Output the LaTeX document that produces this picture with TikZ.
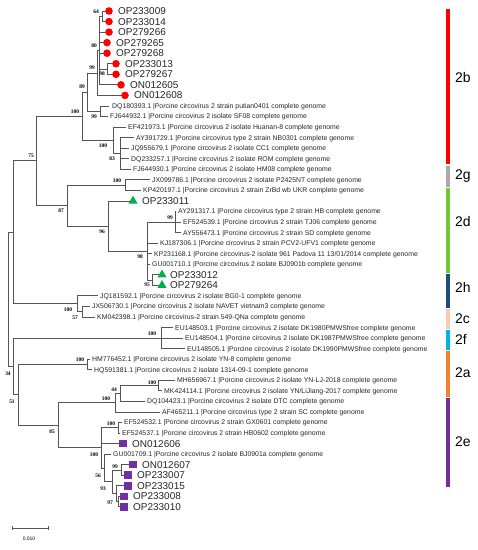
\documentclass[tikz,border=0pt]{standalone}
\usepackage{fontspec}
\setmainfont{Liberation Sans}
\newfontfamily\bsfont{Liberation Serif}
\usetikzlibrary{shapes.geometric}
\definecolor{treeline}{RGB}{85,85,85}
\definecolor{cred}{RGB}{255,0,0}
\definecolor{cgreen}{RGB}{0,176,80}
\definecolor{cpurple}{RGB}{112,48,160}
\definecolor{bgray}{RGB}{170,170,170}
\definecolor{bgreen}{RGB}{112,200,60}
\definecolor{bdblue}{RGB}{31,78,121}
\definecolor{bpeach}{RGB}{248,203,173}
\definecolor{blblue}{RGB}{0,176,240}
\definecolor{borange}{RGB}{244,128,48}
\begin{document}
\begin{tikzpicture}[x=1bp,y=-1bp,
  br/.style={draw=treeline,line width=0.75bp},
  lab/.style={anchor=base west,inner sep=0,font=\fontsize{6.9}{7}\selectfont,text=black!85,yshift=-2.5bp},
  oplab/.style={anchor=base west,inner sep=0,font=\fontsize{10}{11}\selectfont,text=black!85,yshift=-3.6bp},
  bs/.style={anchor=center,inner sep=0,font=\bsfont\bfseries\fontsize{5.5}{6}\selectfont},
  redc/.style={circle,fill=cred,inner sep=0,minimum size=7.6bp},
  grtri/.style={regular polygon,regular polygon sides=3,fill=cgreen,inner sep=0,minimum size=10.5bp},
  pusq/.style={rectangle,fill=cpurple,inner sep=0,minimum size=7.6bp},
  bar/.style={line width=3.3bp},
  clade/.style={anchor=west,inner sep=0,font=\fontsize{14}{15}\selectfont}]
\useasboundingbox (0,0) rectangle (478,550);
% internal nodes
\coordinate (root) at (8,299.4);
\coordinate (nA) at (13,232.3);
\coordinate (n34) at (13,366.45);
\coordinate (n75) at (36,160.85);
\coordinate (n100a) at (82,116.17);
\coordinate (n89) at (87,92.1);
\coordinate (n99a) at (97,72.98);
\coordinate (n80) at (99,50.56);
\coordinate (n64) at (102,16.28);
\coordinate (n98a) at (107,69.03);
\coordinate (nDQ) at (100,111.23);
\coordinate (nEF) at (113,140.24);
\coordinate (n83) at (120,153.43);
\coordinate (n87) at (67,205.52);
\coordinate (nJX) at (125,185.08);
\coordinate (n96) at (108,225.96);
\coordinate (n98b) at (147,251.01);
\coordinate (n99b) at (175,222);
\coordinate (n95) at (152,280.03);
\coordinate (nJQ) at (77,303.76);
\coordinate (n57) at (82,311.68);
\coordinate (nEU) at (161,338.05);
\coordinate (n51) at (18,394.84);
\coordinate (nHM) at (87,364.43);
\coordinate (n85) at (58,425.26);
\coordinate (n100b) at (115,402.67);
\coordinate (n44) at (120,393.44);
\coordinate (nMH) at (158,385.53);
\coordinate (n2e) at (101,447.84);
\coordinate (nEFe) at (118,427.73);
\coordinate (n56) at (104,467.95);
\coordinate (n93) at (112,481.79);
\coordinate (n99e) at (121,469.93);
\coordinate (nX) at (116,493.66);
\coordinate (n97) at (118,501.58);
% tips
\coordinate (t1) at (109,11);
\coordinate (t2) at (109,21.55);
\coordinate (t3) at (109,32.1);
\coordinate (t4) at (107,42.65);
\coordinate (t5) at (107,53.2);
\coordinate (t6) at (116,63.75);
\coordinate (t7) at (116,74.3);
\coordinate (t8) at (121,84.85);
\coordinate (t9) at (125,95.4);
\coordinate (t10) at (109,105.95);
\coordinate (t11) at (108,116.5);
\coordinate (t12) at (126,127.05);
\coordinate (t13) at (134,137.6);
\coordinate (t14) at (129,148.15);
\coordinate (t15) at (129,158.7);
\coordinate (t16) at (131,169.25);
\coordinate (t17) at (150,179.8);
\coordinate (t18) at (141,190.35);
\coordinate (t19) at (133,200.9);
\coordinate (t20) at (176,211.45);
\coordinate (t21) at (181,222);
\coordinate (t22) at (181,232.55);
\coordinate (t23) at (158,243.1);
\coordinate (t24) at (152,253.65);
\coordinate (t25) at (150,264.2);
\coordinate (t26) at (162,274.75);
\coordinate (t27) at (162,285.3);
\coordinate (t28) at (98,295.85);
\coordinate (t29) at (90,306.4);
\coordinate (t30) at (95,316.95);
\coordinate (t31) at (173,327.5);
\coordinate (t32) at (183,338.05);
\coordinate (t33) at (185,348.6);
\coordinate (t34) at (90,359.15);
\coordinate (t35) at (92,369.7);
\coordinate (t36) at (175,380.25);
\coordinate (t37) at (162,390.8);
\coordinate (t38) at (145,401.35);
\coordinate (t39) at (160,411.9);
\coordinate (t40) at (122,422.45);
\coordinate (t41) at (120,433);
\coordinate (t42) at (123,443.55);
\coordinate (t43) at (111,454.1);
\coordinate (t44) at (133,464.65);
\coordinate (t45) at (128,475.2);
\coordinate (t46) at (128,485.75);
\coordinate (t47) at (124,496.3);
\coordinate (t48) at (124,506.85);
% branches
\foreach \p/\c in {root/nA,root/n34,nA/n75,nA/nJQ,n75/n100a,n75/n87,n100a/n89,n100a/nEF,
  n89/n99a,n89/nDQ,n99a/n80,n99a/t9,n80/n64,n80/t3,n80/t4,n80/t5,n80/n98a,n80/t8,
  n64/t1,n64/t2,n98a/t6,n98a/t7,nDQ/t10,nDQ/t11,nEF/t12,nEF/n83,n83/t13,n83/t14,n83/t15,n83/t16,
  n87/nJX,n87/n96,nJX/t17,nJX/t18,n96/t19,n96/n98b,n98b/n99b,n98b/t23,n98b/t24,n98b/t25,n98b/n95,
  n99b/t20,n99b/t21,n99b/t22,n95/t26,n95/t27,nJQ/t28,nJQ/n57,n57/t29,n57/t30,
  n34/nEU,n34/n51,nEU/t31,nEU/t32,nEU/t33,n51/nHM,n51/n85,nHM/t34,nHM/t35,
  n85/n100b,n85/n2e,n100b/n44,n100b/t39,n44/nMH,n44/t38,nMH/t36,nMH/t37,
  n2e/nEFe,n2e/t42,n2e/n56,nEFe/t40,nEFe/t41,n56/t43,n56/n93,n93/n99e,n93/nX,
  n99e/t44,n99e/t45,nX/t46,nX/n97,n97/t47,n97/t48}
  \draw[br] (\p) |- (\c);
% markers
\foreach \i in {1,...,9} \node[redc] (m\i) at (t\i) {};
\foreach \i in {19,26,27} \node[grtri] (m\i) at (t\i) {};
\foreach \i in {42,44,45,46,47,48} \node[pusq] (m\i) at (t\i) {};
% tip labels with markers
\node[oplab] (L1) at (118,11) {OP233009};
\node[oplab] (L2) at (118,21.55) {OP233014};
\node[oplab] (L3) at (118,32.1) {OP279266};
\node[oplab] (L4) at (116,42.65) {OP279265};
\node[oplab] (L5) at (116,53.2) {OP279268};
\node[oplab] (L6) at (125,63.75) {OP233013};
\node[oplab] (L7) at (125,74.3) {OP279267};
\node[oplab] (L8) at (130,84.85) {ON012605};
\node[oplab] (L9) at (134,95.4) {ON012608};
\node[oplab] (L19) at (142,200.9) {OP233011};
\node[oplab] (L26) at (170,274.75) {OP233012};
\node[oplab] (L27) at (170,285.3) {OP279264};
\node[oplab] (L42) at (132,443.55) {ON012606};
\node[oplab] (L44) at (142,464.65) {ON012607};
\node[oplab] (L45) at (137,475.2) {OP233007};
\node[oplab] (L46) at (137,485.75) {OP233015};
\node[oplab] (L47) at (133,496.3) {OP233008};
\node[oplab] (L48) at (133,506.85) {OP233010};
% long labels
\node[lab] (L10) at (112,105.95) {DQ180393.1 |Porcine circovirus 2 strain putian0401 complete genome};
\node[lab] (L11) at (110,116.5) {FJ644932.1 |Porcine circovirus 2 isolate SF08 complete genome};
\node[lab] (L12) at (128,127.05) {EF421973.1 |Porcine circovirus 2 isolate Huanan-8 complete genome};
\node[lab] (L13) at (136,137.6) {AY391729.1 |Porcine circovirus type 2 strain NB0301 complete genome};
\node[lab] (L14) at (131,148.15) {JQ955679.1 |Porcine circovirus 2 isolate CC1 complete genome};
\node[lab] (L15) at (131,158.7) {DQ233257.1 |Porcine circovirus 2 isolate ROM complete genome};
\node[lab] (L16) at (133,169.25) {FJ644930.1 |Porcine circovirus 2 isolate HM08 complete genome};
\node[lab] (L17) at (152,179.8) {JX099786.1 |Porcine circovirus 2 isolate P2425NT complete genome};
\node[lab] (L18) at (143,190.35) {KP420197.1 |Porcine circovirus 2 strain ZrBd wb UKR complete genome};
\node[lab] (L20) at (178,211.45) {AY291317.1 |Porcine circovirus type 2 strain HB complete genome};
\node[lab] (L21) at (183,222) {EF524539.1 |Porcine circovirus 2 strain TJ06 complete genome};
\node[lab] (L22) at (183,232.55) {AY556473.1 |Porcine circovirus 2 strain SD complete genome};
\node[lab] (L23) at (160,243.1) {KJ187306.1 |Porcine circovirus 2 strain PCV2-UFV1 complete genome};
\node[lab] (L24) at (154,253.65) {KP231168.1 |Porcine circovirus-2 isolate 961 Padova 11 13/01/2014 complete genome};
\node[lab] (L25) at (152,264.2) {GU001710.1 |Porcine circovirus 2 isolate BJ0901b complete genome};
\node[lab] (L28) at (100,295.85) {JQ181592.1 |Porcine circovirus 2 isolate BG0-1 complete genome};
\node[lab] (L29) at (92,306.4) {JX506730.1 |Porcine circovirus 2 isolate NAVET vietnam3 complete genome};
\node[lab] (L30) at (97,316.95) {KM042398.1 |Porcine circovirus-2 strain 549-QNa complete genome};
\node[lab] (L31) at (175,327.5) {EU148503.1 |Porcine circovirus 2 isolate DK1980PMWSfree complete genome};
\node[lab] (L32) at (185,338.05) {EU148504.1 |Porcine circovirus 2 isolate DK1987PMWSfree complete genome};
\node[lab] (L33) at (187,348.6) {EU148505.1 |Porcine circovirus 2 isolate DK1990PMWSfree complete genome};
\node[lab] (L34) at (92,359.15) {HM776452.1 |Porcine circovirus 2 isolate YN-8 complete genome};
\node[lab] (L35) at (94,369.7) {HQ591381.1 |Porcine circovirus 2 isolate 1314-09-1 complete genome};
\node[lab] (L36) at (177,380.25) {MH656967.1 |Porcine circovirus 2 isolate YN-LJ-2018 complete genome};
\node[lab] (L37) at (164,390.8) {MK424114.1 |Porcine circovirus 2 isolate YN/LiJiang-2017 complete genome};
\node[lab] (L38) at (147,401.35) {DQ104423.1 |Porcine circovirus 2 isolate DTC complete genome};
\node[lab] (L39) at (162,411.9) {AF465211.1 |Porcine circovirus type 2 strain SC complete genome};
\node[lab] (L40) at (124,422.45) {EF524532.1 |Porcine circovirus 2 strain GX0601 complete genome};
\node[lab] (L41) at (122,433) {EF524537.1 |Porcine circovirus 2 strain HB0602 complete genome};
\node[lab] (L43) at (113,454.1) {GU001709.1 |Porcine circovirus 2 isolate BJ0901a complete genome};
% bootstrap values
\node[bs] (b64) at (96,12) {64};
\node[bs] (b80) at (94,46) {80};
\node[bs] (b98a) at (102,74) {98};
\node[bs] (b99a) at (92,68) {99};
\node[bs] (bDQ) at (94,117) {99};
\node[bs] (b89) at (82,87) {89};
\node[bs] (b100a) at (75,112) {100};
\node[bs] (bEF) at (103,146) {100};
\node[bs] (b83) at (112,159) {83};
\node[bs] (b75) at (31,156) {75};
\node[bs] (bJX) at (117,181) {100};
\node[bs] (b87) at (61,211) {87};
\node[bs] (b96) at (102,232) {96};
\node[bs] (b98b) at (140,257) {98};
\node[bs] (b99b) at (170,218) {99};
\node[bs] (b95) at (147,285) {95};
\node[bs] (bJQ) at (68,310) {100};
\node[bs] (b57) at (75,318) {57};
\node[bs] (bEU) at (152,334) {100};
\node[bs] (b34) at (8,374) {34};
\node[bs] (bHM) at (80,360) {100};
\node[bs] (b51) at (12,402) {51};
\node[bs] (bMH) at (152,383) {100};
\node[bs] (b44) at (114,390) {44};
\node[bs] (b100b) at (106,399) {100};
\node[bs] (b85) at (52,432) {85};
\node[bs] (bEFe) at (111,424) {100};
\node[bs] (b2e) at (94,455) {100};
\node[bs] (b56) at (98,476) {56};
\node[bs] (b99e) at (115,467) {99};
\node[bs] (b93) at (103,489) {93};
\node[bs] (b97) at (110,503) {97};
% scale bar
\coordinate (sbL) at (12,528);
\coordinate (sbR) at (48,528);
\draw[br] (sbL) -- (sbR);
\draw[br] ([yshift=2bp]sbL) -- ([yshift=-2bp]sbL);
\draw[br] ([yshift=2bp]sbR) -- ([yshift=-2bp]sbR);
\node[inner sep=0,font=\fontsize{5}{6}\selectfont] (sbT) at (29,539) {0.010};
% clade bars
\draw[bar,cred] (448,9) -- (448,164.5);
\draw[bar,bgray] (448,166) -- (448,187);
\draw[bar,bgreen] (448,188.5) -- (448,272.5);
\draw[bar,bdblue] (448,273.5) -- (448,307.5);
\draw[bar,bpeach] (448,309) -- (448,329);
\draw[bar,blblue] (448,330) -- (448,350);
\draw[bar,borange] (448,351) -- (448,397);
\draw[bar,cpurple] (448,398) -- (448,487);
\node[clade] (c2b) at (455,78) {2b};
\node[clade] (c2g) at (455,176) {2g};
\node[clade] (c2d) at (455,222) {2d};
\node[clade] (c2h) at (455,287) {2h};
\node[clade] (c2c) at (455,319) {2c};
\node[clade] (c2f) at (455,339) {2f};
\node[clade] (c2a) at (455,373) {2a};
\node[clade] (c2e) at (455,442) {2e};
\end{tikzpicture}
\end{document}
